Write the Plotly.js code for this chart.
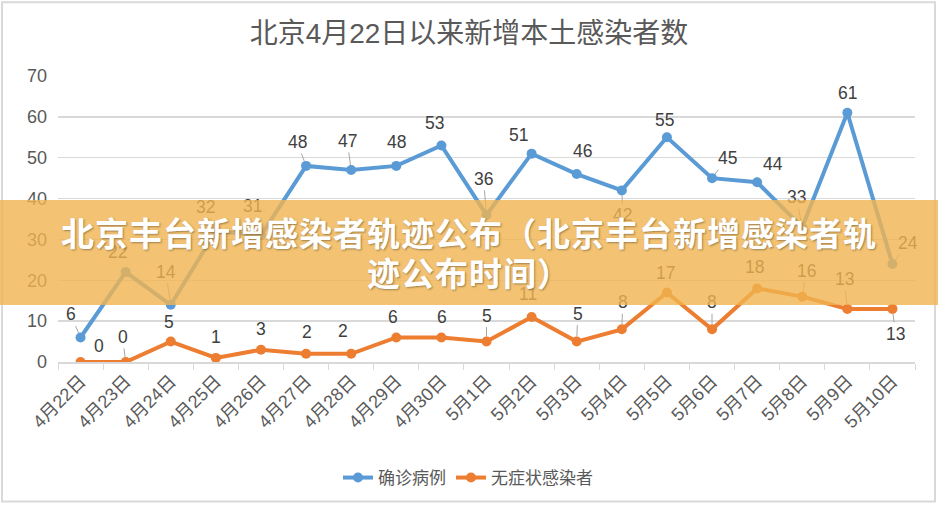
<!DOCTYPE html>
<html>
<head>
<meta charset="utf-8">
<script src="https://cdn.plot.ly/plotly-3.0.1.min.js"></script>
<style>
html,body{margin:0;padding:0;background:#fff;}
#wrap{position:relative;width:938px;height:506px;overflow:hidden;}
#chart{width:938px;height:506px;}
#banner{position:absolute;left:0;top:200px;width:938px;height:105px;background:rgba(240,180,80,0.8);pointer-events:none;}
#btext{padding-top:12px;text-align:center;color:#fff;font-family:"Noto Sans CJK SC",sans-serif;font-weight:bold;font-size:33px;line-height:40px;letter-spacing:1px;text-shadow:1px 1px 2px rgba(0,0,0,0.35);}
</style>
</head>
<body>
<div id="wrap">
  <div id="chart"></div>
  <div id="banner"><div id="btext">北京丰台新增感染者轨迹公布（北京丰台新增感染者轨<br>迹公布时间）</div></div>
</div>
<script>
const dates = ['4月22日','4月23日','4月24日','4月25日','4月26日','4月27日','4月28日','4月29日','4月30日','5月1日','5月2日','5月3日','5月4日','5月5日','5月6日','5月7日','5月8日','5月9日','5月10日'];
const confirmed = [6,22,14,32,31,48,47,48,53,36,51,46,42,55,45,44,33,61,24];
const asymptomatic = [0,0,5,1,3,2,2,6,6,5,11,5,8,17,8,18,16,13,13];
const seriesNames = ['确诊病例','无症状感染者'];
const titleText = '北京4月22日以来新增本土感染者数';

// label offsets in pixels (style only)
const confOff = [[-10,-23],[-8,-20],[-5,-33],[-10,-24],[-8,-29],[-9,-24],[-4,-29],[0,-24],[-7,-22],[-3,-36],[-13,-19],[6,-23],[1,25],[-2,-17],[15,-20],[16,-18],[-6,-30],[0,-20],[16,-21]];
const asymOff = [[18,-16],[-3,-25],[-2,-20],[0,-21],[0,-21],[1,-22],[-8,-23],[-3,-20],[1,-20],[0,-26],[-4,-23],[1,-28],[1,-27],[-1,-20],[0,-27],[-3,-21],[4,-26],[-3,-30],[3,25]];

const FONT = '"Liberation Sans", "Noto Sans CJK SC", Arial, sans-serif';
const blue = '#5B9BD5', orange = '#ED7D31';

const traces = [
  {x: dates, y: confirmed, name: seriesNames[0], type: 'scatter', mode: 'lines+markers',
   line: {color: blue, width: 4}, marker: {color: blue, size: 10}},
  {x: dates, y: asymptomatic, name: seriesNames[1], type: 'scatter', mode: 'lines+markers',
   line: {color: orange, width: 4}, marker: {color: orange, size: 10}}
];

function labels(vals, offs) {
  return vals.map((v, i) => {
    const [dx, dy] = offs[i];
    const lead = Math.hypot(dx, dy) > 24.5;
    return {x: dates[i], y: v, text: String(v), showarrow: true, ax: dx, ay: dy,
      arrowhead: 0, arrowwidth: 1, arrowcolor: lead ? '#a6a6a6' : 'rgba(0,0,0,0)', standoff: 5,
      font: {family: FONT, size: 17.5, color: '#404040'}};
  });
}

const L = 58, R = 23, T = 76, B = 143, W = 938, H = 506;
const pw = W - L - R, ph = H - T - B;

const layout = {
  width: W, height: H,
  margin: {l: L, r: R, t: T, b: B, pad: 0},
  paper_bgcolor: '#fff', plot_bgcolor: '#fff',
  font: {family: FONT, color: '#595959'},
  title: {text: titleText, font: {family: FONT, size: 28, color: '#595959'},
          x: 0.5, xref: 'container', y: 1 - 33 / H, yref: 'container', yanchor: 'middle'},
  showlegend: true,
  legend: {orientation: 'h', x: 0.5 - (486.5 - 468) / pw, xanchor: 'center', y: -(478 - (H - B)) / ph, yanchor: 'middle',
           font: {family: FONT, size: 17, color: '#595959'}, itemwidth: 30},
  xaxis: {type: 'category', range: [-0.5, dates.length - 0.5], showgrid: false, zeroline: false,
          showline: true, linecolor: '#d9d9d9', linewidth: 1.5,
          ticks: 'outside', tickson: 'boundaries', ticklen: 6, tickcolor: '#d9d9d9',
          tickangle: -45, tickfont: {family: FONT, size: 18, color: '#595959'}, fixedrange: true},
  yaxis: {range: [0, 70], dtick: 10, showgrid: true, gridcolor: '#d9d9d9', gridwidth: 1.5,
          zeroline: false, showline: false, ticks: '', ticklen: 0, ticklabelstandoff: 10,
          tickfont: {family: FONT, size: 18, color: '#595959'}, fixedrange: true},
  shapes: [{type: 'rect', xref: 'paper', yref: 'paper', layer: 'below',
            x0: (2 - L) / pw, x1: (935 - L) / pw, y0: -(503 - (H - B)) / ph, y1: (H - B - 2) / ph,
            line: {color: '#d9d9d9', width: 2}, fillcolor: 'rgba(0,0,0,0)'}],
  annotations: labels(confirmed, confOff).concat(labels(asymptomatic, asymOff))
};

Plotly.newPlot('chart', traces, layout, {displayModeBar: false, staticPlot: true});
</script>
</body>
</html>
